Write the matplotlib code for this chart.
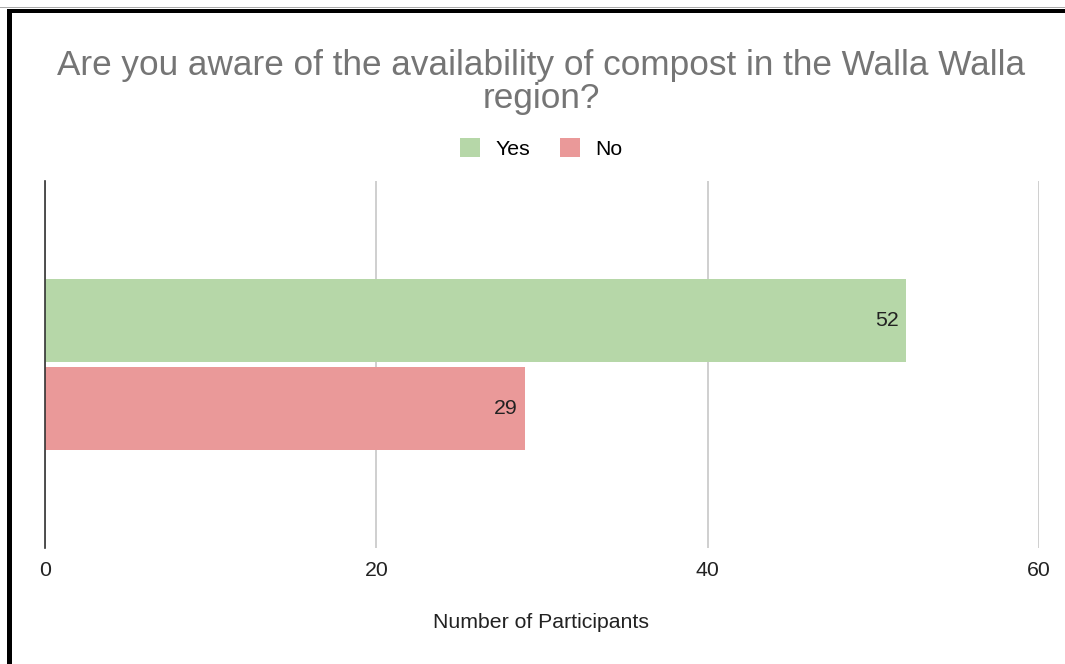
import matplotlib
matplotlib.use("Agg")
import matplotlib.pyplot as plt
from matplotlib.patches import Rectangle, Patch

series = ["Yes", "No"]
values = [52, 29]
colors = ["#b6d7a8", "#ea9999"]
xticks = [0, 20, 40, 60]
title = "Are you aware of the availability of compost in the Walla Walla\nregion?"
xlabel = "Number of Participants"

plt.rcParams['font.family'] = ['Liberation Sans', 'DejaVu Sans']

W, H = 1065, 664
fig = plt.figure(figsize=(W / 100, H / 100), dpi=100)
ax = fig.add_axes([45 / W, 1 - 548 / H, (1039 - 45) / W, (548 - 181) / H])

FS = 15.3
h = 83 / 367 * 2
off = 44 / 367 * 2
ypos = [off, -off]
bars = ax.barh(ypos, values, height=h, color=colors, zorder=3)
for b, v in zip(bars, values):
    ax.text(v - 0.45, b.get_y() + b.get_height() / 2, str(v), ha='right', va='center',
            fontsize=FS, color='#222222', zorder=4)

ax.set_xlim(0, 60)
ax.set_ylim(-1, 1)
ax.set_xticks(xticks)
ax.set_xticklabels([str(t) for t in xticks], fontsize=FS, color='#222222')
ax.set_yticks([])
ax.tick_params(axis='x', length=0, pad=9)
for s in ['top', 'right', 'bottom']:
    ax.spines[s].set_visible(False)
ax.spines['left'].set_color('#333333')
ax.spines['left'].set_linewidth(1.2)
ax.spines['left'].set_zorder(5)
ax.grid(axis='x', color='#cccccc', linewidth=1.3, zorder=0)
ax.set_xlabel(xlabel, fontsize=FS, color='#222222', va='center')
ax.xaxis.set_label_coords(0.5 + (541 - 542) / 994, (548 - 622) / 367)

fig.text(541 / W, 1 - 82 / H, title, ha='center', va='center', fontsize=25.3,
         color='#757575', linespacing=1.0)

handles = [Patch(facecolor=c, edgecolor='none') for c in colors]
fig.legend(handles, series, loc='center', bbox_to_anchor=(541 / W, 1 - 148.5 / H), ncol=2,
           frameon=False, fontsize=FS, handlelength=0.95, handleheight=0.95,
           columnspacing=1.4, handletextpad=0.72)

# frame border
fig.patches.append(Rectangle((0, 1 - 8 / H), 1, 1 / H, transform=fig.transFigure,
                             facecolor='#aaaaaa', edgecolor='none'))
fig.patches.append(Rectangle((7 / W, 1 - 13 / H), 1, 4.5 / H, transform=fig.transFigure,
                             facecolor='black', edgecolor='none'))
fig.patches.append(Rectangle((7 / W, 0), 5 / W, 1 - 9 / H, transform=fig.transFigure,
                             facecolor='black', edgecolor='none'))

fig.savefig("out.png", dpi=100)
